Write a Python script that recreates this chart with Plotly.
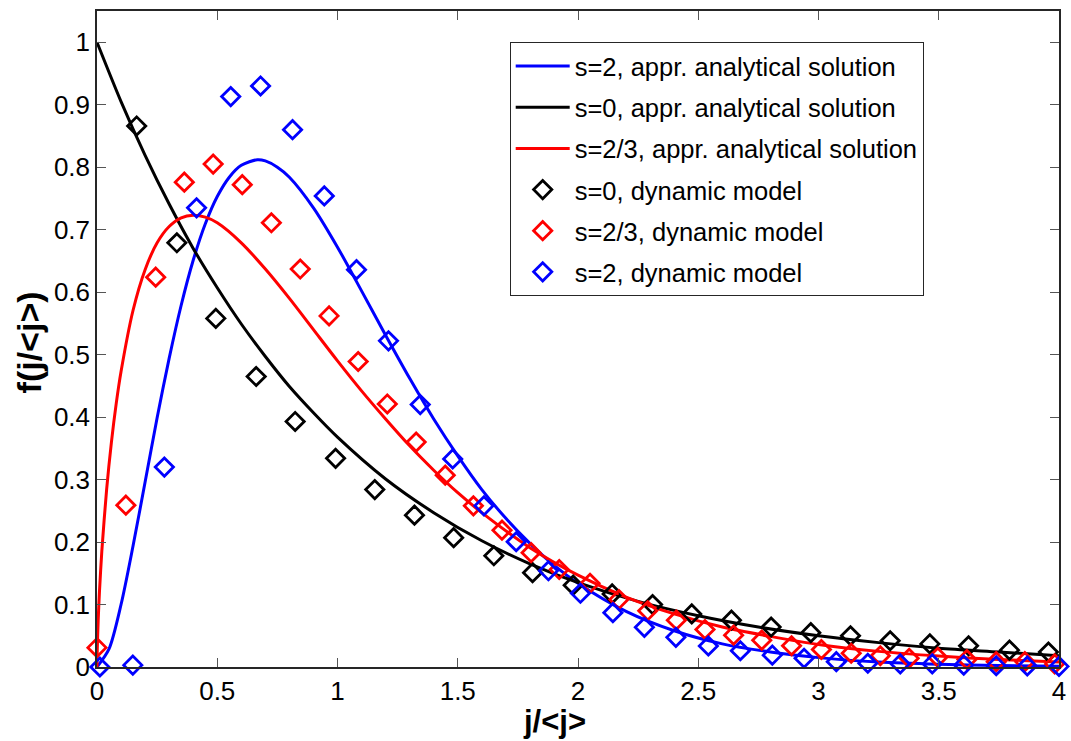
import plotly.graph_objects as go

# ---- analytical curves ----
x_s0_line = [0, 0.1, 0.2, 0.3, 0.4, 0.5, 0.6, 0.7, 0.8, 0.9, 1.0, 1.2, 1.4, 1.6, 1.8, 2.0,
             2.25, 2.5, 2.75, 3.0, 3.25, 3.5, 3.75, 4.0]
y_s0_line = [1.0, 0.905, 0.819, 0.741, 0.670, 0.607, 0.549, 0.497, 0.449, 0.407, 0.368, 0.301,
             0.247, 0.202, 0.165, 0.135, 0.105, 0.082, 0.064, 0.050, 0.039, 0.030, 0.024, 0.018]

x_s2_line = [0, 0.05, 0.1, 0.15, 0.2, 0.25, 0.3, 0.35, 0.4, 0.45, 0.5, 0.55, 0.6, 0.667, 0.7, 0.75,
             0.8, 0.9, 1.0, 1.1, 1.2, 1.3, 1.4, 1.5, 1.6, 1.7, 1.8, 1.9, 2.0, 2.2, 2.4, 2.6, 2.8,
             3.0, 3.25, 3.5, 3.75, 4.0]
y_s2_line = [0, 0.029, 0.100, 0.194, 0.296, 0.399, 0.494, 0.579, 0.651, 0.709, 0.753, 0.784, 0.803,
             0.812, 0.810, 0.800, 0.784, 0.735, 0.672, 0.602, 0.531, 0.462, 0.397, 0.338, 0.284,
             0.238, 0.198, 0.163, 0.134, 0.089, 0.058, 0.037, 0.024, 0.015, 0.008, 0.0045, 0.0025,
             0.0013]

x_s23_line = [0, 0.001, 0.005, 0.01, 0.02, 0.04, 0.06, 0.08, 0.1, 0.15, 0.2, 0.25, 0.3, 0.35, 0.4,
              0.45, 0.5, 0.6, 0.7, 0.8, 0.9, 1.0, 1.1, 1.2, 1.3, 1.4, 1.5, 1.6, 1.8, 2.0, 2.2, 2.4,
              2.6, 2.8, 3.0, 3.25, 3.5, 3.75, 4.0]
y_s23_line = [0, 0.026, 0.075, 0.119, 0.185, 0.284, 0.360, 0.422, 0.473, 0.571, 0.636, 0.679, 0.705,
              0.719, 0.723, 0.720, 0.711, 0.679, 0.637, 0.590, 0.540, 0.490, 0.442, 0.397, 0.354,
              0.315, 0.279, 0.247, 0.191, 0.147, 0.112, 0.085, 0.064, 0.049, 0.036, 0.025, 0.0175,
              0.012, 0.008]

# ---- dynamic model points ----
x_s0_pts = [0.165, 0.332, 0.494, 0.662, 0.824, 0.992, 1.155, 1.320, 1.483, 1.650, 1.811, 1.980,
            2.142, 2.310, 2.473, 2.638, 2.803, 2.968, 3.133, 3.298, 3.463, 3.624, 3.794, 3.956]
y_s0_pts = [0.866, 0.679, 0.558, 0.465, 0.393, 0.334, 0.284, 0.243, 0.207, 0.178, 0.151, 0.131,
            0.117, 0.100, 0.085, 0.075, 0.064, 0.055, 0.050, 0.042, 0.037, 0.034, 0.027, 0.024]

x_s23_pts = [0.0, 0.120, 0.244, 0.363, 0.483, 0.604, 0.725, 0.845, 0.965, 1.086, 1.207, 1.327,
             1.448, 1.565, 1.684, 1.805, 1.922, 2.050, 2.170, 2.290, 2.409, 2.528, 2.647, 2.764,
             2.888, 3.012, 3.136, 3.257, 3.377, 3.496, 3.617, 3.739, 3.858, 3.982]
y_s23_pts = [0.031, 0.259, 0.624, 0.776, 0.805, 0.772, 0.711, 0.637, 0.562, 0.489, 0.421, 0.360,
             0.307, 0.258, 0.219, 0.183, 0.156, 0.134, 0.108, 0.090, 0.075, 0.060, 0.051, 0.043,
             0.034, 0.028, 0.022, 0.018, 0.014, 0.0155, 0.012, 0.0085, 0.0085, 0.005]

x_s2_pts = [0.012, 0.149, 0.280, 0.414, 0.556, 0.680, 0.813, 0.945, 1.079, 1.212, 1.344, 1.479,
            1.609, 1.743, 1.877, 2.010, 2.145, 2.276, 2.407, 2.542, 2.675, 2.808, 2.940, 3.074,
            3.205, 3.340, 3.473, 3.604, 3.739, 3.868, 4.0]
y_s2_pts = [0.0, 0.003, 0.320, 0.735, 0.913, 0.930, 0.860, 0.754, 0.636, 0.522, 0.420, 0.333,
            0.258, 0.2005, 0.154, 0.118, 0.087, 0.0635, 0.0475, 0.0336, 0.026, 0.019, 0.014,
            0.0085, 0.006, 0.005, 0.005, 0.003, 0.002, 0.0016, 0.001]

x_ticks = [0, 0.5, 1, 1.5, 2, 2.5, 3, 3.5, 4]
x_ticktext = ["0", "0.5", "1", "1.5", "2", "2.5", "3", "3.5", "4"]
y_ticks = [0, 0.1, 0.2, 0.3, 0.4, 0.5, 0.6, 0.7, 0.8, 0.9, 1.0]
y_ticktext = ["0", "0.1", "0.2", "0.3", "0.4", "0.5", "0.6", "0.7", "0.8", "0.9", "1"]

x_title = "<b>j/&lt;j&gt;</b>"
y_title = "<b>f(j/&lt;j&gt;)</b>"

BLUE = "#0000ff"
BLACK = "#000000"
RED = "#ff0000"
FONT = "Arial, 'Liberation Sans', Helvetica, sans-serif"

fig = go.Figure()

line_w = 3
fig.add_trace(go.Scatter(x=x_s2_line, y=y_s2_line, mode="lines", name="s=2, appr. analytical solution",
                         line=dict(color=BLUE, width=line_w, shape="spline", smoothing=0.8),
                         legendgroup="a"))
fig.add_trace(go.Scatter(x=x_s0_line, y=y_s0_line, mode="lines", name="s=0, appr. analytical solution",
                         line=dict(color=BLACK, width=line_w, shape="spline", smoothing=0.8),
                         legendgroup="b"))
fig.add_trace(go.Scatter(x=x_s23_line, y=y_s23_line, mode="lines", name="s=2/3, appr. analytical solution",
                         line=dict(color=RED, width=line_w, shape="spline", smoothing=0.8),
                         legendgroup="c"))

msize = 14
mline = 2.8
fig.add_trace(go.Scatter(x=x_s0_pts, y=y_s0_pts, mode="markers", name="s=0, dynamic model",
                         marker=dict(symbol="diamond-open", size=msize, color=BLACK,
                                     line=dict(width=mline, color=BLACK)),
                         cliponaxis=False, legendgroup="d"))
fig.add_trace(go.Scatter(x=x_s23_pts, y=y_s23_pts, mode="markers", name="s=2/3, dynamic model",
                         marker=dict(symbol="diamond-open", size=msize, color=RED,
                                     line=dict(width=mline, color=RED)),
                         cliponaxis=False, legendgroup="e"))
fig.add_trace(go.Scatter(x=x_s2_pts, y=y_s2_pts, mode="markers", name="s=2, dynamic model",
                         marker=dict(symbol="diamond-open", size=msize, color=BLUE,
                                     line=dict(width=mline, color=BLUE)),
                         cliponaxis=False, legendgroup="f"))

axis_common = dict(
    showline=True, linecolor="#262626", linewidth=1.5, mirror="ticks",
    ticks="inside", ticklen=9, tickwidth=1.2, tickcolor="#555555",
    showgrid=False, zeroline=False, ticklabeloverflow="allow",
    tickfont=dict(family=FONT, size=26, color="#000000"),
)

fig.update_layout(
    width=1071, height=741,
    margin=dict(l=97, r=5, t=11, b=74),
    paper_bgcolor="white", plot_bgcolor="white",
    font=dict(family=FONT, color="#000000"),
    xaxis=dict(range=[0, 4], tickvals=x_ticks, ticktext=x_ticktext, **axis_common),
    yaxis=dict(range=[0, 1.05], tickvals=y_ticks, ticktext=y_ticktext, **axis_common),
    legend=dict(x=0.429, y=0.9527, xanchor="left", yanchor="top",
                bgcolor="white", bordercolor="#262626", borderwidth=1,
                font=dict(family=FONT, size=25.5, color="#000000"),
                traceorder="grouped", tracegroupgap=5, itemwidth=54),
    showlegend=True,
    annotations=[
        dict(text=x_title, xref="paper", yref="paper", x=0.476, y=-0.083,
             xanchor="center", yanchor="middle", showarrow=False,
             font=dict(family=FONT, size=31, color="#000000")),
        dict(text=y_title, xref="paper", yref="paper", x=-0.0712, y=0.494,
             xanchor="center", yanchor="middle", showarrow=False, textangle=-90,
             font=dict(family=FONT, size=34, color="#000000")),
    ],
)

fig.write_html("out.html")
